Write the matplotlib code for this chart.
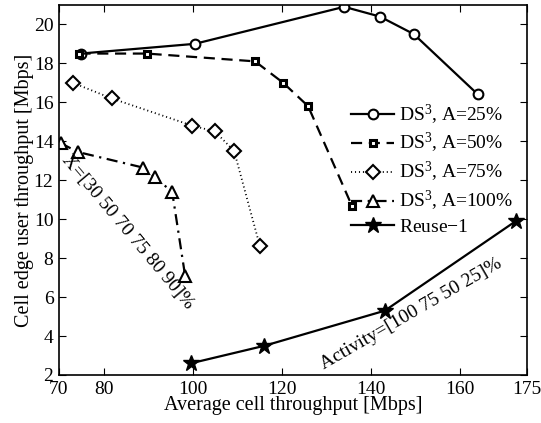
import matplotlib
matplotlib.use('Agg')
import matplotlib.pyplot as plt

plt.rcParams['font.family'] = ['Liberation Serif', 'DejaVu Serif']
plt.rcParams['mathtext.fontset'] = 'custom'
plt.rcParams['mathtext.rm'] = 'Liberation Serif'
plt.rcParams['mathtext.it'] = 'Liberation Serif:italic'

# DS3, A=25%
x25 = [74.9, 100.5, 134.0, 142.0, 149.6, 164.0]
y25 = [18.5, 19.0, 20.9, 20.4, 19.5, 16.4]
# DS3, A=50%
x50 = [74.6, 89.7, 114.0, 120.3, 125.9, 135.7]
y50 = [18.5, 18.5, 18.1, 17.0, 15.8, 10.7]
# DS3, A=75%
x75 = [73.1, 81.8, 99.9, 105.0, 109.3, 115.1]
y75 = [17.0, 16.2, 14.8, 14.5, 13.5, 8.6]
# DS3, A=100%
x100 = [70.4, 74.2, 88.8, 91.5, 95.4, 98.3]
y100 = [13.9, 13.45, 12.65, 12.15, 11.4, 7.1]
# Reuse-1
xr = [99.6, 116.1, 143.1, 172.5]
yr = [2.6, 3.5, 5.3, 9.9]

labels = ['DS$^3$, A=25%', 'DS$^3$, A=50%', 'DS$^3$, A=75%', 'DS$^3$, A=100%', 'Reuse$-$1']
xticks = [70, 80, 100, 120, 140, 160, 175]
yticks = [2, 4, 6, 8, 10, 12, 14, 16, 18, 20]

fig = plt.figure(figsize=(5.41, 4.23), dpi=100)
ax = fig.add_axes([0.109, 0.1135, 0.865, 0.875])

ax.plot(x25, y25, '-', color='k', lw=1.6, marker='o', mfc='white', mec='k', mew=1.5, ms=7, label=labels[0])
ax.plot(x50, y50, '--', color='k', lw=1.6, dashes=(5, 3), marker='s', mfc='white', mec='k', mew=2.2, ms=5, label=labels[1])
ax.plot(x75, y75, ':', color='k', lw=1.3, dashes=(0.6, 1.6), marker='D', mfc='white', mec='k', mew=1.5, ms=7, label=labels[2])
ax.plot(x100, y100, '-.', color='k', lw=1.6, dashes=(5, 2.5, 1, 2.5), marker='^', mfc='white', mec='k', mew=1.5, ms=9, label=labels[3])
ax.plot(xr, yr, '-', color='k', lw=1.6, marker='*', mfc='k', mec='k', ms=12, label=labels[4])

ax.text(85.4, 9.35, 'X=[30 50 70 75 80 90]%', rotation=-50, ha='center', va='center', fontsize=14)
ax.text(149.0, 5.15, 'Activity=[100 75 50 25]%', rotation=30, ha='center', va='center', fontsize=14)

ax.set_xlim(70, 175)
ax.set_ylim(2, 21)
ax.set_xticks(xticks)
ax.set_yticks(yticks)
ax.tick_params(direction='in', top=True, right=True, labelsize=14, length=5, pad=4)
ax.set_xlabel('Average cell throughput [Mbps]', fontsize=14.5, labelpad=-1)
ax.set_ylabel('Cell edge user throughput [Mbps]', fontsize=14.5, labelpad=0)
for s in ax.spines.values():
    s.set_linewidth(1.2)

ax.legend(loc='upper left', bbox_to_anchor=(0.625, 0.736), frameon=False, fontsize=14,
          handlelength=2.2, handletextpad=0.25, labelspacing=0.25, borderpad=0, borderaxespad=0)

fig.savefig('out.png', dpi=100)
